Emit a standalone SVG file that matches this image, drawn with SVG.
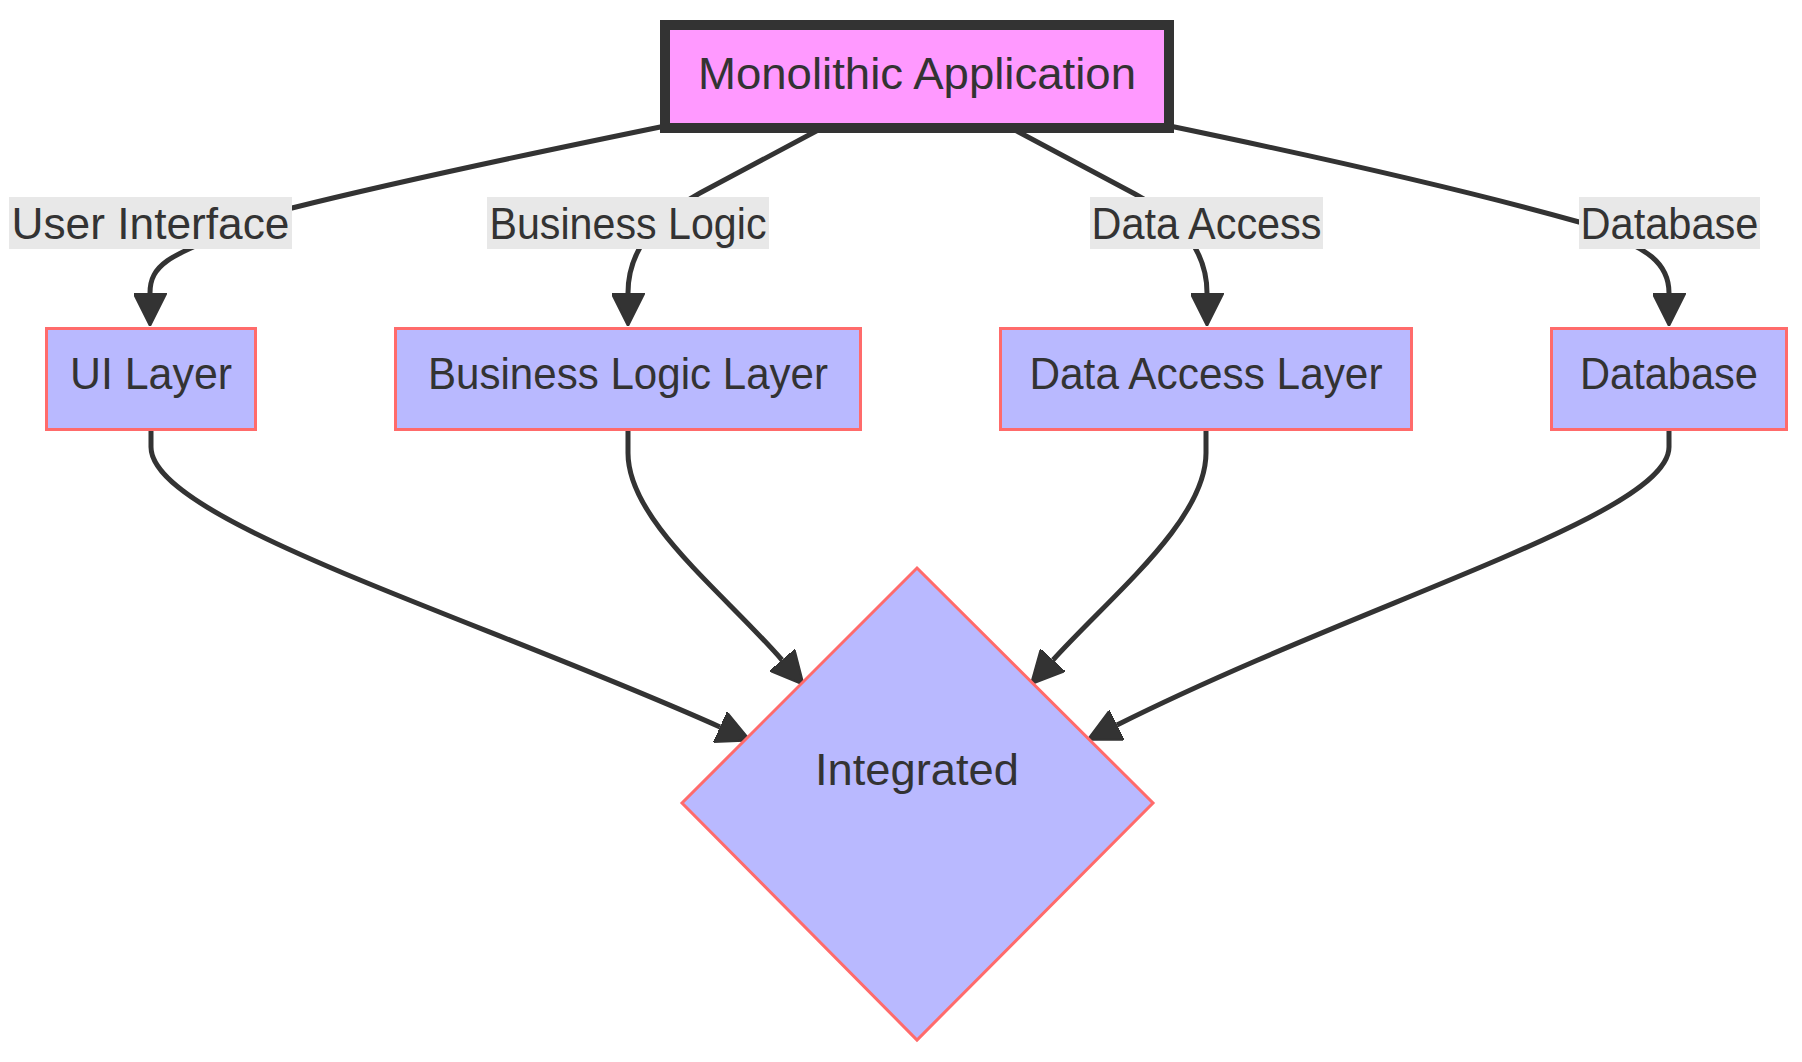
<svg xmlns="http://www.w3.org/2000/svg" width="1802" height="1062" viewBox="0 0 1802 1062">
<style>
  .edge { fill: none; stroke: #333333; stroke-width: 5; marker-end: url(#arrow); }
  .lbl-bg { fill: #e8e8e8; }
  .txt { font-family: "Liberation Sans", Arial, sans-serif; font-size: 44px; fill: #333333; text-anchor: middle; }
  .main { fill: #ff99ff; stroke: #333333; stroke-width: 10; }
  .node { fill: #b9b9ff; stroke: #ff6b6b; stroke-width: 3; }
</style>
<defs>
  <marker id="arrow" viewBox="0 0 10 10" refX="0" refY="5" markerUnits="userSpaceOnUse" markerWidth="33" markerHeight="33" orient="auto">
    <path d="M0,0 L10,5 L0,10 z" fill="#333333" stroke="#333333" stroke-width="0.6" stroke-linejoin="round"/>
  </marker>
</defs>
<rect width="1802" height="1062" fill="#ffffff"/>
<g id="connectors">
  <path class="edge" d="M675,124 Q420,176 292,208 L230,232 C170,255 150,265 150,293"/>
  <path class="edge" d="M822,128 L700,193 Q628,233 628,293"/>
  <path class="edge" d="M1011,128 L1135,194 Q1207,233 1207,293"/>
  <path class="edge" d="M1165,125 Q1430,180 1579,222 L1605,233 C1645,248 1669,262 1669,293"/>
  <path class="edge" d="M151,431 L151,447 C151,520 470,615 720,727"/>
  <path class="edge" d="M628,431 L628,453 C628,520 722,591 782,660"/>
  <path class="edge" d="M1206,431 L1206,453 C1206,520 1113,594 1053,660"/>
  <path class="edge" d="M1669,431 L1669,447 C1669,515 1367,600 1117,725"/>
</g>
<g id="edge-labels">
  <g id="label-ui">
    <rect class="lbl-bg" x="9" y="197" width="283" height="52"/>
    <text class="txt" x="150.5" y="239" textLength="278" lengthAdjust="spacingAndGlyphs">User Interface</text>
  </g>
  <g id="label-bl">
    <rect class="lbl-bg" x="487" y="197" width="282" height="52"/>
    <text class="txt" x="628" y="239" textLength="277" lengthAdjust="spacingAndGlyphs">Business Logic</text>
  </g>
  <g id="label-da">
    <rect class="lbl-bg" x="1090" y="197" width="233" height="52"/>
    <text class="txt" x="1206.5" y="239" textLength="230" lengthAdjust="spacingAndGlyphs">Data Access</text>
  </g>
  <g id="label-db">
    <rect class="lbl-bg" x="1579" y="197" width="181" height="52"/>
    <text class="txt" x="1669.5" y="239" textLength="178" lengthAdjust="spacingAndGlyphs">Database</text>
  </g>
</g>
<g id="node-monolith">
  <rect class="main" x="665" y="25" width="504" height="103"/>
  <text class="txt" x="917" y="89" textLength="438" lengthAdjust="spacingAndGlyphs">Monolithic Application</text>
</g>
<g id="node-ui">
  <rect class="node" x="46.5" y="328.5" width="209" height="101"/>
  <text class="txt" x="151" y="389" textLength="162" lengthAdjust="spacingAndGlyphs">UI Layer</text>
</g>
<g id="node-bll">
  <rect class="node" x="395.5" y="328.5" width="465" height="101"/>
  <text class="txt" x="628" y="389" textLength="400" lengthAdjust="spacingAndGlyphs">Business Logic Layer</text>
</g>
<g id="node-dal">
  <rect class="node" x="1000.5" y="328.5" width="411" height="101"/>
  <text class="txt" x="1206" y="389" textLength="353" lengthAdjust="spacingAndGlyphs">Data Access Layer</text>
</g>
<g id="node-db">
  <rect class="node" x="1551.5" y="328.5" width="235" height="101"/>
  <text class="txt" x="1669" y="389" textLength="178" lengthAdjust="spacingAndGlyphs">Database</text>
</g>
<g id="node-integrated">
  <polygon class="node" stroke-width="2.5" points="917,568 1153,803 917,1040 682,803"/>
  <text class="txt" x="917" y="785" textLength="204" lengthAdjust="spacingAndGlyphs">Integrated</text>
</g>
</svg>
